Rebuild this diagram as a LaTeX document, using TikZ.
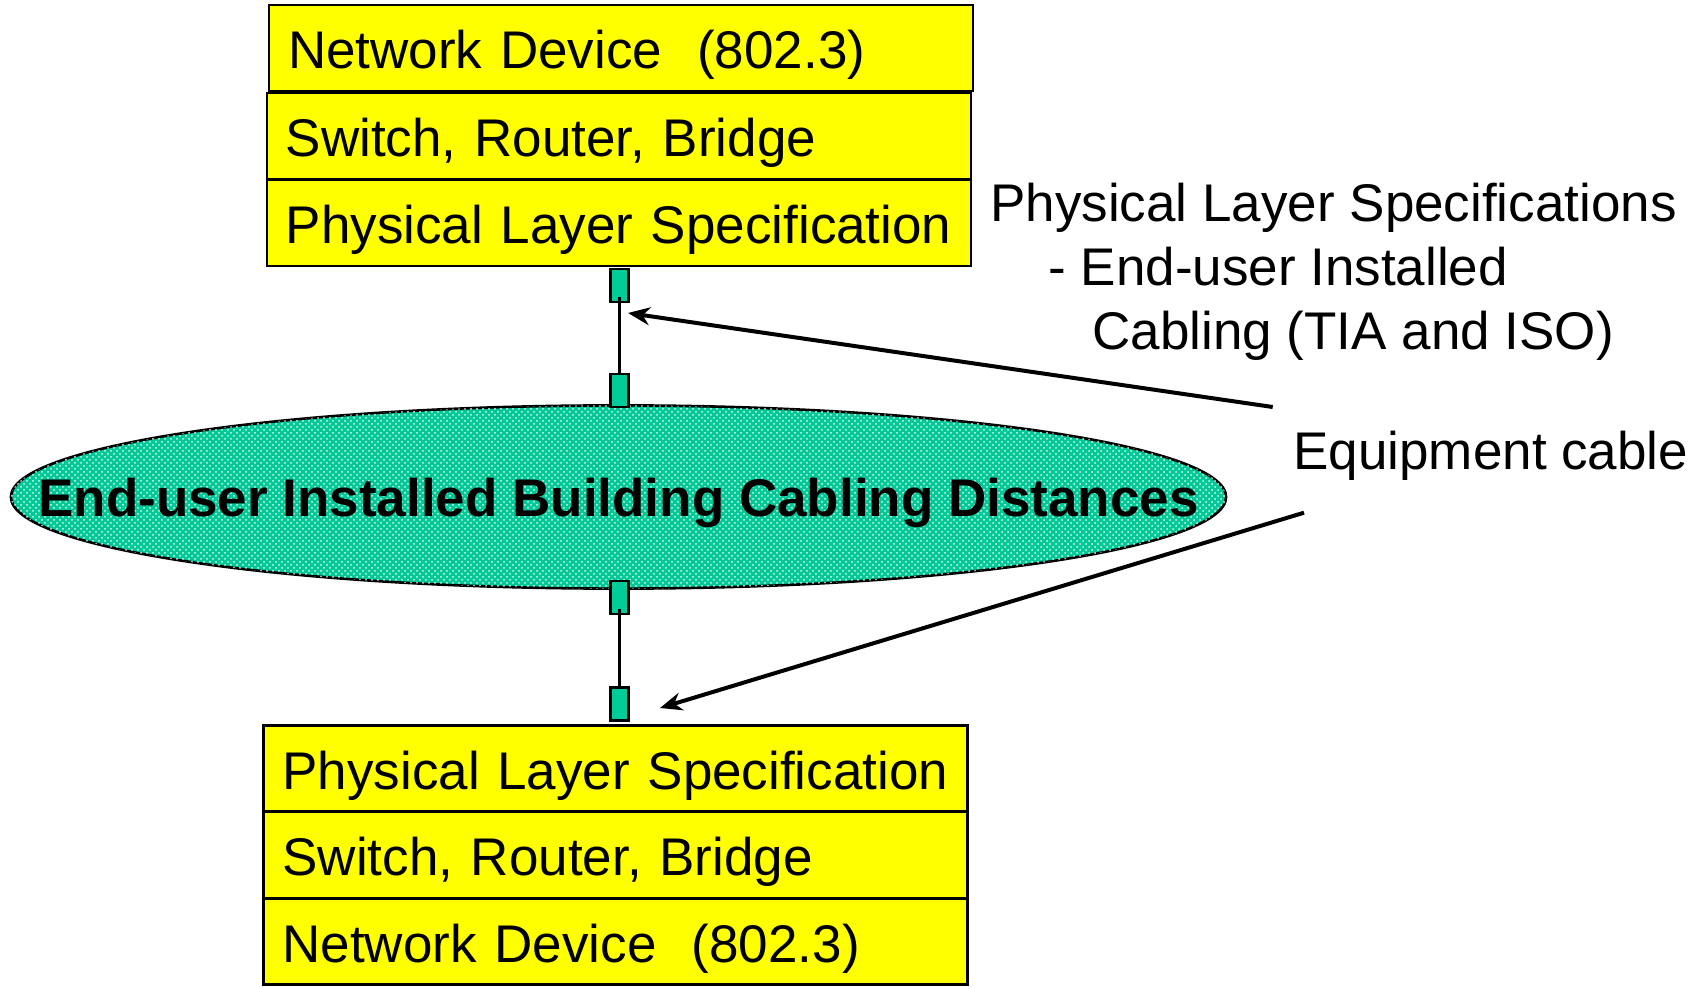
\documentclass[tikz,border=0pt]{standalone}
\usepackage{fontspec}
\setmainfont{Liberation Sans}
\usepackage{tikz}
\usetikzlibrary{shapes.geometric}
\usetikzlibrary{arrows.meta,patterns}

\definecolor{layeryellow}{RGB}{255,255,0}
\definecolor{plugteal}{RGB}{0,204,153}
\definecolor{cloudteal}{RGB}{0,200,150}

\begin{document}
\begin{tikzpicture}[x=0.5pt,y=-0.5pt,
	layer/.style={draw,line width=1.3pt,fill=layeryellow,minimum height=43pt,
		text width=333pt,inner xsep=9.5pt,align=left,
		text height=20.7pt,text depth=0pt,
		font=\fontsize{26.5pt}{32pt}\selectfont},
	plug/.style={draw,line width=1.3pt,fill=plugteal,minimum width=8.8pt,
		minimum height=16.5pt,inner sep=0pt},
	label/.style={anchor=base west,inner sep=0pt,
		font=\fontsize{26.5pt}{32pt}\selectfont},
	pointer/.style={line width=2pt,-{Stealth[length=11pt,width=9pt]}}]
	\useasboundingbox (0,0) rectangle (1691,988);
	
	\node[layer] (net1) at (621,48) {Network Device\ \ (802.3)};
	\node[layer] (sw1) at (618.8,136) {Switch, Router, Bridge};
	\node[layer] (phy1) at (618.8,223) {Physical Layer Specification};
	
	\node[layer] (phy2) at (615.5,768.4) {Physical Layer Specification};
	\node[layer] (sw2) at (615.5,855) {Switch, Router, Bridge};
	\node[layer] (net2) at (615.5,941.3) {Network Device\ \ (802.3)};
	
	\node[draw,ellipse,line width=1.3pt,fill=cloudteal,minimum width=607.6pt,
		minimum height=91.6pt,inner sep=0pt,
		postaction={pattern=crosshatch dots,pattern color=white!85!cloudteal}]
		(cabling) at (618.5,497) {};
	\node[font=\fontsize{26.5pt}{32pt}\selectfont\bfseries,inner sep=0pt]
		(title) at ([yshift=-3pt]cabling.center) {End-user Installed Building Cabling Distances};
	
	\node[plug] (p1) at (619.5,285.5) {};
	\node[plug] (p2) at (619.5,390.7) {};
	\node[plug] (p3) at (619.5,597.5) {};
	\node[plug] (p4) at (619.5,703.7) {};
	\draw[line width=1.3pt] ([yshift=3pt]p1.south) -- (p2.north);
	\draw[line width=1.3pt] ([yshift=3pt]p3.south) -- (p4.north);
	
	\node[label] (spec1) at (990,221.6) {Physical Layer Specifications};
	\node[label] (spec2) at (1048,285.2) {- End-user Installed};
	\node[label] (spec3) at (1092,350) {Cabling (TIA and ISO)};
	\node[label] (equip) at (1293,469.6) {Equipment cable};
	
	\coordinate (from1) at (1272.7,407);
	\coordinate (to1) at (628,313);
	\coordinate (from2) at (1304,512.7);
	\coordinate (to2) at (660,708);
	\draw[pointer] (from1) -- (to1);
	\draw[pointer] (from2) -- (to2);
\end{tikzpicture}
\end{document}
